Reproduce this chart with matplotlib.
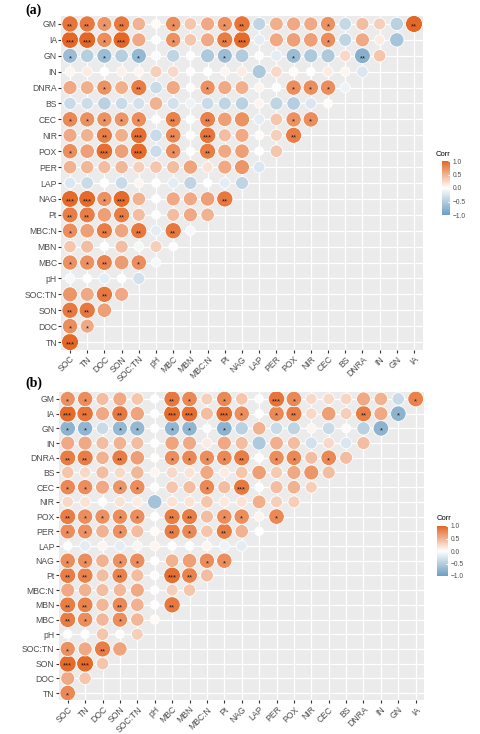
import numpy as np
import matplotlib
matplotlib.use('Agg')
import matplotlib.pyplot as plt
from matplotlib.colors import LinearSegmentedColormap

# variable order used on both axes
names = ['SOC', 'TN', 'DOC', 'SON', 'SOC:TN', 'pH', 'MBC', 'MBN', 'MBC:N', 'Pt',
         'NAG', 'LAP', 'PER', 'POX', 'NIR', 'CEC', 'BS', 'DNRA', 'IN', 'GN', 'IA', 'GM']
x_labels = names[:-1]
y_labels = names[1:]

# panel (a): rows TN ... GM (bottom to top), values for columns SOC onwards
a_vals = [
    [0.82],
    [0.60, 0.45],
    [0.70, 0.70, 0.50],
    [0.55, 0.45, 0.70, 0.45],
    [-0.05, 0.0, -0.15, 0.0, -0.25],
    [0.58, 0.58, 0.65, 0.52, 0.60, -0.05],
    [0.30, 0.35, 0.0, 0.35, -0.05, 0.25, 0.0],
    [0.60, 0.50, 0.68, 0.48, 0.70, -0.15, 0.70, -0.05],
    [0.68, 0.68, 0.50, 0.68, 0.35, 0.0, 0.35, 0.45, 0.40],
    [0.78, 0.78, 0.58, 0.78, 0.40, 0.0, 0.45, 0.45, 0.50, 0.70],
    [-0.20, -0.30, 0.0, -0.30, 0.05, 0.0, -0.15, -0.35, 0.0, -0.15, -0.35],
    [0.40, 0.38, 0.35, 0.38, 0.25, 0.30, 0.35, 0.48, 0.15, 0.45, 0.55, -0.20],
    [0.60, 0.50, 0.75, 0.50, 0.78, -0.28, 0.60, 0.0, 0.68, 0.45, 0.50, 0.0, 0.30],
    [0.45, 0.40, 0.68, 0.42, 0.75, -0.30, 0.62, 0.0, 0.72, 0.35, 0.45, 0.02, 0.25, 0.68],
    [0.62, 0.58, 0.58, 0.55, 0.60, 0.0, 0.65, 0.0, 0.65, 0.50, 0.58, -0.15, 0.30, 0.58, 0.60],
    [-0.30, -0.28, -0.38, -0.30, -0.25, 0.40, -0.25, -0.10, -0.30, -0.35, -0.38, 0.05, -0.35, -0.40, -0.20, 0.02],
    [0.45, 0.42, 0.58, 0.42, 0.68, -0.30, 0.45, 0.0, 0.58, 0.45, 0.42, 0.05, 0.0, 0.60, 0.60, 0.60, -0.10],
    [0.05, 0.10, 0.0, 0.08, 0.05, 0.25, 0.20, 0.0, 0.0, 0.05, 0.10, -0.45, 0.20, 0.02, 0.0, 0.10, 0.05, -0.20],
    [-0.55, -0.40, -0.55, -0.40, -0.58, -0.03, -0.35, 0.0, -0.45, -0.55, -0.42, 0.0, -0.15, -0.55, -0.45, -0.45, 0.20, -0.65, 0.30],
    [0.80, 0.80, 0.60, 0.80, 0.45, 0.0, 0.58, 0.30, 0.45, 0.68, 0.78, -0.15, 0.45, 0.50, 0.50, 0.60, -0.35, 0.45, 0.10, -0.48],
    [0.72, 0.70, 0.55, 0.70, 0.40, 0.02, 0.60, 0.30, 0.45, 0.58, 0.72, -0.35, 0.42, 0.45, 0.45, 0.58, -0.32, 0.35, 0.25, -0.38, 0.80],
]
# number of significance stars, same layout
a_sig = [
    [3],
    [1, 1],
    [2, 2, 0],
    [0, 0, 2, 0],
    [0, 0, 0, 0, 0],
    [1, 1, 2, 0, 1, 0],
    [0, 0, 0, 0, 0, 0, 0],
    [1, 0, 2, 0, 2, 0, 2, 0],
    [2, 2, 0, 2, 0, 0, 0, 0, 0],
    [3, 3, 1, 3, 0, 0, 0, 0, 0, 2],
    [0, 0, 0, 0, 0, 0, 0, 0, 0, 0, 0],
    [0, 0, 0, 0, 0, 0, 0, 0, 0, 0, 0, 0],
    [1, 0, 3, 0, 3, 0, 1, 0, 2, 0, 0, 0, 0],
    [0, 0, 2, 0, 3, 0, 2, 0, 3, 0, 0, 0, 0, 2],
    [1, 1, 1, 1, 1, 0, 2, 0, 2, 0, 0, 0, 0, 1, 1],
    [0, 0, 0, 0, 0, 0, 0, 0, 0, 0, 0, 0, 0, 0, 0, 0],
    [0, 0, 1, 0, 2, 0, 0, 0, 1, 0, 0, 0, 0, 1, 1, 1, 0],
    [0, 0, 0, 0, 0, 0, 0, 0, 0, 0, 0, 0, 0, 0, 0, 0, 0, 0],
    [1, 0, 1, 0, 1, 0, 0, 0, 0, 1, 0, 0, 0, 1, 0, 0, 0, 2, 0],
    [3, 3, 1, 3, 0, 0, 1, 0, 0, 2, 3, 0, 0, 0, 0, 1, 0, 0, 0, 0],
    [2, 2, 1, 2, 0, 0, 1, 0, 0, 1, 2, 0, 0, 0, 0, 1, 0, 0, 0, 0, 2],
]

# panel (b)
b_vals = [
    [0.62],
    [0.45, 0.30],
    [0.78, 0.78, 0.30],
    [0.58, 0.45, 0.68, 0.48],
    [0.0, 0.0, 0.30, 0.0, 0.25],
    [0.68, 0.60, 0.38, 0.60, 0.38, 0.03],
    [0.68, 0.65, 0.38, 0.62, 0.40, 0.0, 0.70],
    [0.45, 0.40, 0.35, 0.38, 0.45, 0.0, 0.25, 0.30],
    [0.68, 0.65, 0.35, 0.65, 0.35, 0.0, 0.75, 0.65, 0.35],
    [0.60, 0.60, 0.40, 0.58, 0.60, 0.0, 0.40, 0.50, 0.60, 0.60],
    [0.0, -0.15, 0.05, -0.15, 0.05, 0.05, 0.0, 0.0, 0.05, -0.10, -0.15],
    [0.60, 0.58, 0.40, 0.58, 0.35, 0.02, 0.68, 0.62, 0.30, 0.68, 0.40, 0.0],
    [0.68, 0.60, 0.58, 0.60, 0.60, 0.0, 0.68, 0.68, 0.35, 0.60, 0.60, 0.05, 0.62],
    [0.20, 0.15, 0.0, 0.15, 0.10, -0.50, 0.15, 0.15, 0.30, 0.12, 0.15, 0.42, 0.25, 0.25],
    [0.62, 0.60, 0.45, 0.55, 0.60, 0.0, 0.30, 0.35, 0.62, 0.35, 0.70, 0.0, 0.35, 0.40, 0.25],
    [0.30, 0.20, 0.35, 0.20, 0.38, 0.05, 0.20, 0.15, 0.45, 0.10, 0.30, 0.50, 0.28, 0.45, 0.55, 0.35],
    [0.68, 0.68, 0.40, 0.68, 0.50, 0.0, 0.60, 0.62, 0.60, 0.62, 0.68, 0.0, 0.60, 0.62, 0.35, 0.62, 0.35],
    [0.45, 0.45, 0.35, 0.40, 0.35, 0.0, 0.48, 0.45, 0.10, 0.45, 0.35, -0.45, 0.42, 0.35, -0.25, 0.20, -0.20, 0.35],
    [-0.62, -0.60, -0.30, -0.58, -0.58, 0.0, -0.60, -0.60, 0.0, -0.62, -0.38, 0.40, -0.30, -0.35, 0.05, -0.30, 0.02, -0.38, -0.62],
    [0.78, 0.72, 0.45, 0.70, 0.48, 0.0, 0.78, 0.75, 0.35, 0.75, 0.60, 0.0, 0.62, 0.68, 0.20, 0.50, 0.25, 0.68, 0.45, -0.62],
    [0.58, 0.60, 0.35, 0.45, 0.30, 0.0, 0.70, 0.62, 0.25, 0.62, 0.30, 0.0, 0.72, 0.62, 0.20, 0.20, 0.22, 0.45, 0.40, -0.30, 0.65],
]
b_sig = [
    [1],
    [0, 0],
    [3, 3, 0],
    [1, 0, 2, 0],
    [0, 0, 0, 0, 0],
    [2, 1, 0, 1, 0, 0],
    [2, 2, 0, 2, 0, 0, 2],
    [0, 0, 0, 0, 0, 0, 0, 0],
    [2, 2, 0, 2, 0, 0, 3, 2, 0],
    [1, 1, 0, 1, 1, 0, 0, 0, 1, 1],
    [0, 0, 0, 0, 0, 0, 0, 0, 0, 0, 0],
    [1, 1, 0, 1, 0, 0, 2, 1, 0, 2, 0, 0],
    [2, 1, 1, 1, 1, 0, 2, 2, 0, 1, 1, 0, 1],
    [0, 0, 0, 0, 0, 0, 0, 0, 0, 0, 0, 0, 0, 0],
    [1, 1, 0, 1, 1, 0, 0, 0, 1, 0, 3, 0, 0, 0, 0],
    [0, 0, 0, 0, 0, 0, 0, 0, 0, 0, 0, 0, 0, 0, 0, 0],
    [2, 2, 0, 2, 0, 0, 1, 1, 1, 1, 2, 0, 1, 1, 0, 1, 0],
    [0, 0, 0, 0, 0, 0, 0, 0, 0, 0, 0, 0, 0, 0, 0, 0, 0, 0],
    [1, 1, 0, 1, 1, 0, 1, 1, 0, 1, 0, 0, 0, 0, 0, 0, 0, 0, 1],
    [3, 2, 0, 2, 0, 0, 3, 3, 0, 3, 1, 0, 1, 2, 0, 0, 0, 2, 0, 1],
    [1, 1, 0, 0, 0, 0, 2, 1, 0, 1, 0, 0, 3, 1, 0, 0, 0, 0, 0, 0, 1],
]

cmap = LinearSegmentedColormap.from_list('corr', ['#6D9EC1', 'white', '#E46726'])
W, H = 480, 734
VLIM = 0.8   # colour / size saturation for the circles


def px(l, t, r, b):
    return [l / W, 1 - b / H, (r - l) / W, (b - t) / H]


def draw_panel(ax, vals, sig):
    ax.set_facecolor('#EBEBEB')
    xs, ys, cs = [], [], []
    for k, row in enumerate(vals):
        for j, v in enumerate(row):
            xs.append(j)
            ys.append(k)
            cs.append(v)
    cs = np.array(cs)
    t = np.clip(np.abs(cs) / VLIM, 0, 1)
    ax.scatter(xs, ys, c=cs, cmap=cmap, vmin=-VLIM, vmax=VLIM,
               s=40 + 110 * t, edgecolors='white', linewidths=0.6,
               zorder=3)
    fs = 5.5
    for k, row in enumerate(sig):
        for j, n in enumerate(row):
            if n:
                ax.annotate('*' * n, (j, k), xytext=(0, -0.55 * fs),
                            textcoords='offset points', ha='center',
                            va='baseline', fontsize=fs, color='#1a1a1a',
                            zorder=4)
    ax.set_xlim(-0.5, 20.5)
    ax.set_ylim(-0.5, 20.5)
    ax.set_xticks(range(21))
    ax.set_xticklabels(x_labels, rotation=45, ha='right', rotation_mode='anchor')
    ax.set_yticks(range(21))
    ax.set_yticklabels(y_labels)
    ax.grid(color='white', linewidth=0.9)
    ax.set_axisbelow(True)
    for sp in ax.spines.values():
        sp.set_visible(False)
    ax.tick_params(length=2, color='#333333', labelsize=6.2,
                   labelcolor='#4D4D4D', pad=1.2)


def draw_legend(fig, bar, title_xy):
    cax = fig.add_axes(px(*bar))
    grad = np.linspace(-1, 1, 256).reshape(-1, 1)
    cax.imshow(grad, cmap=cmap, aspect='auto', origin='lower',
               extent=[0, 1, -1, 1])
    cax.set_xticks([])
    cax.yaxis.tick_right()
    cax.set_yticks([-1, -0.5, 0, 0.5, 1])
    cax.set_yticklabels(['\u22121.0', '\u22120.5', '0.0', '0.5', '1.0'])
    cax.tick_params(axis='y', direction='in', length=1.5, color='white',
                    labelsize=4.8, labelcolor='#4D4D4D', pad=2)
    for sp in cax.spines.values():
        sp.set_visible(False)
    fig.text(title_xy[0] / W, 1 - title_xy[1] / H, 'Corr', fontsize=5.5,
             ha='left', va='center', color='black')


plt.rcParams['font.family'] = ['Liberation Sans', 'DejaVu Sans']
fig = plt.figure(figsize=(4.8, 7.34), dpi=100)

ax_a = fig.add_axes(px(61.4, 16, 422.6, 350))
draw_panel(ax_a, a_vals, a_sig)
ax_b = fig.add_axes(px(59, 391.6, 424.4, 700.4))
draw_panel(ax_b, b_vals, b_sig)

draw_legend(fig, (442, 161, 450, 215), (436, 154))
draw_legend(fig, (437, 526, 448, 576), (437, 519))

fig.text(25 / W, 1 - 10 / H, '(a)', fontsize=10, fontweight='bold',
         family='Liberation Serif', ha='left', va='center')
fig.text(25 / W, 1 - 383 / H, '(b)', fontsize=10, fontweight='bold',
         family='Liberation Serif', ha='left', va='center')

fig.savefig('out.png', dpi=100)
